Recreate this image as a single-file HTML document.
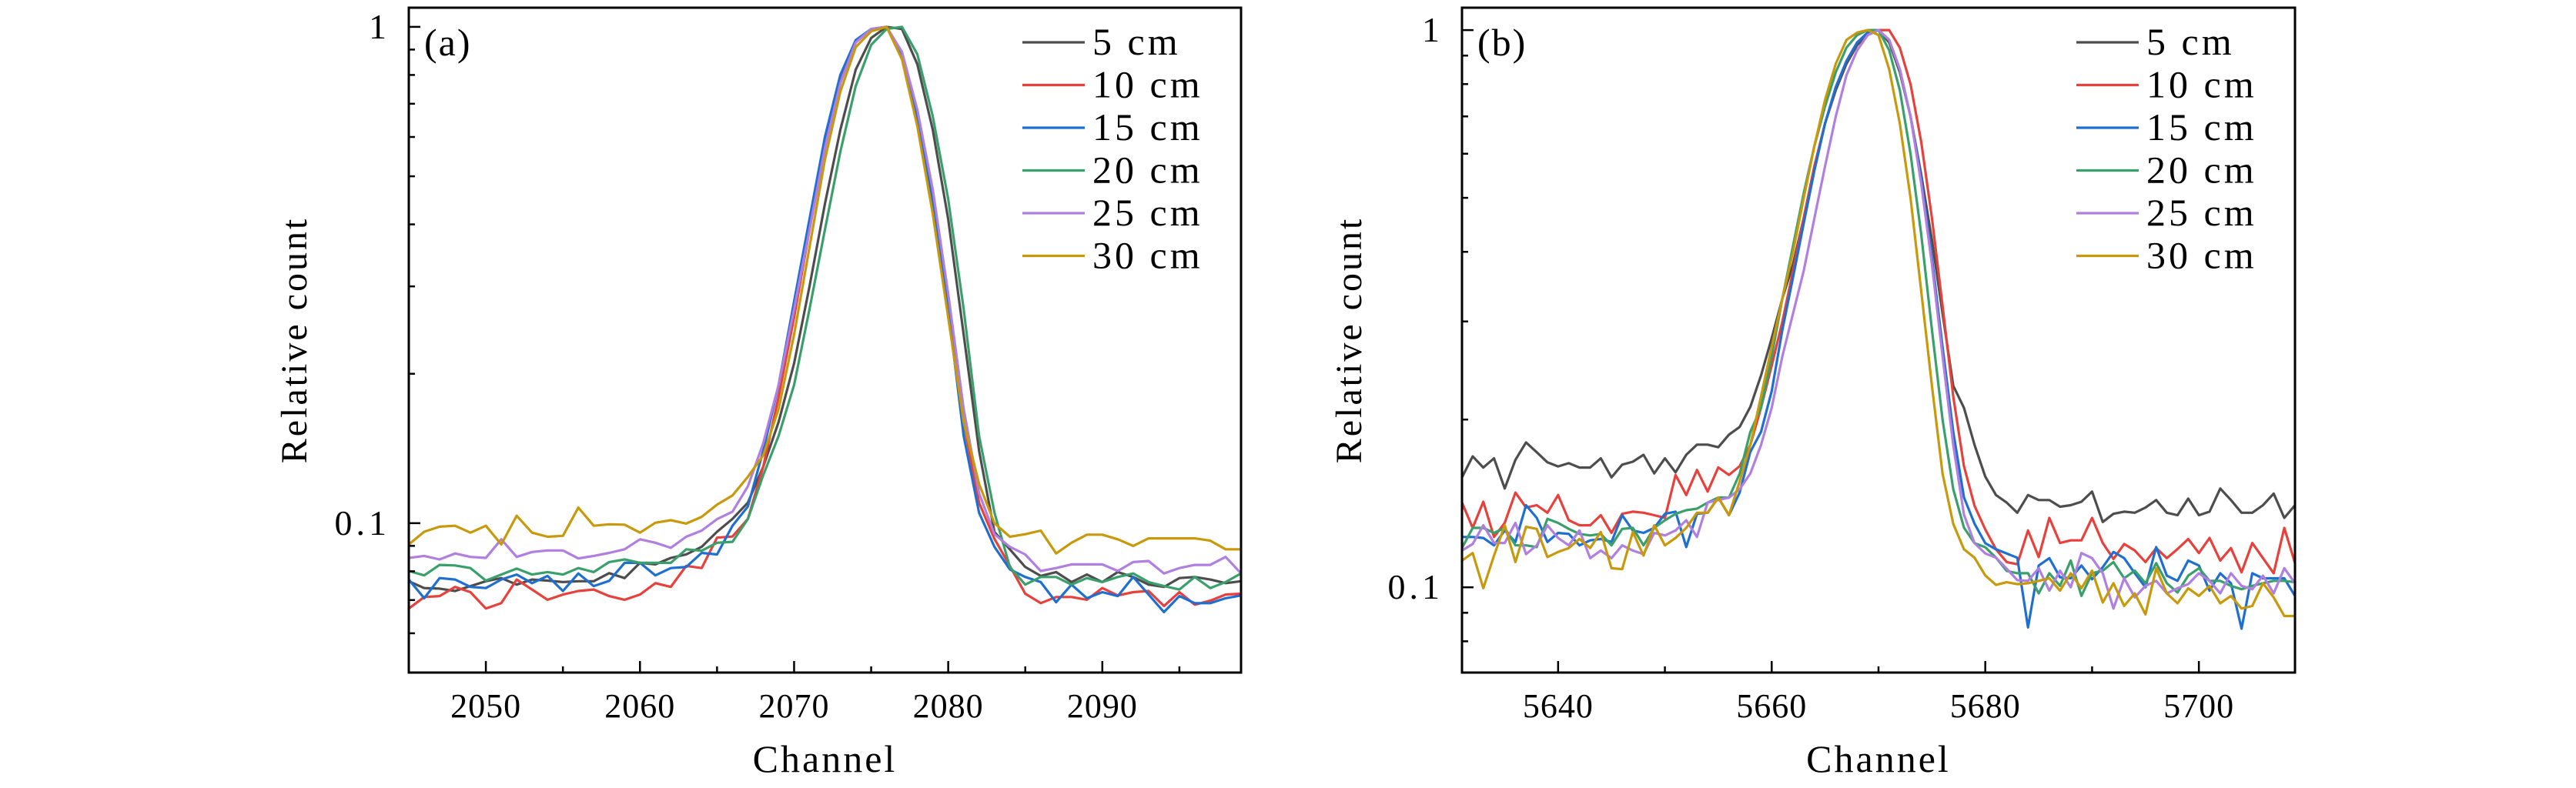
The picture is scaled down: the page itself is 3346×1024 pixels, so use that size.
<!DOCTYPE html>
<html><head><meta charset="utf-8">
<style>
html,body{margin:0;padding:0;background:#fff;}
svg{display:block;font-family:"Liberation Serif",serif;}
</style></head>
<body>
<svg id="chart" width="3346" height="1024" viewBox="0 0 3346 1024" xmlns="http://www.w3.org/2000/svg"></svg>
<script>
// ---------- data ----------
const seriesLabels = ["5 cm","10 cm","15 cm","20 cm","25 cm","30 cm"];
const seriesColors = ["#4d4d4d","#e8413c","#1f6fd1","#3aa06b","#b07fe0","#c8990a"];

const chA_start = 2045; // channels 2045..2099
const a_5cm = [0.0764,0.074,0.0738,0.073,0.0747,0.0764,0.0775,0.0752,0.077,0.0766,0.0761,0.0764,0.0764,0.0793,0.0775,0.0832,0.0826,0.0851,0.0865,0.0896,0.0961,
 0.102,0.11,0.13,0.16,0.21,0.30,0.44,0.62,0.82,0.95,1.0,0.99,0.84,0.62,0.41,0.24,0.14,0.096,0.0886,
 0.0816,0.0783,0.0797,0.0761,0.0788,0.0761,0.0797,0.0779,0.0752,0.0744,0.0775,0.0779,0.077,0.0757,0.0764];
const a_10cm = [0.0673,0.071,0.0713,0.0744,0.0726,0.0673,0.069,0.077,0.0735,0.0701,0.0718,0.073,0.0735,0.0713,0.0701,0.0718,0.0757,0.0744,0.082,0.0812,0.0935,
 0.094,0.102,0.13,0.18,0.26,0.39,0.57,0.78,0.93,0.99,1.0,0.88,0.66,0.45,0.28,0.16,0.11,0.093,0.082,
 0.0721,0.069,0.071,0.071,0.0701,0.074,0.0715,0.0726,0.073,0.0681,0.0726,0.0685,0.0698,0.0718,0.0721];
const a_15cm = [0.077,0.0706,0.0775,0.077,0.0744,0.074,0.077,0.0788,0.0757,0.0783,0.073,0.0792,0.0747,0.0765,0.0832,0.0832,0.0785,0.0812,0.0816,0.0871,0.0865,
 0.0988,0.108,0.14,0.19,0.28,0.41,0.60,0.80,0.94,0.99,1.0,0.87,0.65,0.44,0.27,0.15,0.105,0.0896,0.0807,
 0.0779,0.0761,0.0693,0.0752,0.0706,0.0726,0.0713,0.0779,0.0718,0.0662,0.0713,0.069,0.069,0.0706,0.0715];
const a_20cm = [0.0801,0.0785,0.0824,0.0822,0.0812,0.0766,0.0788,0.081,0.0788,0.0797,0.0788,0.0812,0.0797,0.0835,0.0845,0.0832,0.0832,0.0832,0.0886,0.088,0.0913,
 0.0917,0.1019,0.125,0.15,0.19,0.27,0.39,0.56,0.76,0.92,0.99,1.0,0.88,0.66,0.45,0.27,0.15,0.105,0.0816,
 0.0752,0.0779,0.0779,0.0752,0.0775,0.0761,0.0779,0.0792,0.0761,0.0747,0.0735,0.0779,0.074,0.0761,0.0792];
const a_25cm = [0.0851,0.0859,0.0845,0.0869,0.0855,0.0851,0.0928,0.0855,0.0875,0.0881,0.0881,0.0849,0.0859,0.0871,0.0886,0.0928,0.0913,0.0892,0.0939,0.0966,0.1019,
 0.1055,0.1186,0.145,0.19,0.27,0.39,0.57,0.77,0.93,0.99,1.0,0.89,0.68,0.47,0.29,0.17,0.115,0.095,0.0896,
 0.0865,0.0801,0.0812,0.0826,0.0826,0.0826,0.0801,0.0835,0.0839,0.0792,0.0812,0.0824,0.0824,0.0855,0.0792];
const a_30cm = [0.0906,0.0961,0.0984,0.0988,0.0957,0.0988,0.0906,0.1035,0.0957,0.0939,0.0943,0.1075,0.0988,0.0995,0.0993,0.0957,0.1002,0.1014,0.0998,0.103,0.109,
 0.1137,0.124,0.137,0.17,0.24,0.36,0.54,0.74,0.91,0.98,1.0,0.86,0.63,0.42,0.26,0.16,0.12,0.1,0.0939,
 0.095,0.0966,0.0869,0.0913,0.0948,0.0948,0.0928,0.090,0.0932,0.0932,0.0932,0.0932,0.0922,0.0886,0.0886];

const chB_start = 5631; // channels 5631..5709
const b_5cm = [0.1575,0.1718,0.164,0.1704,0.1504,0.1693,0.182,0.1747,0.1676,0.1648,0.167,0.164,0.164,0.1704,0.1575,0.166,0.168,0.1729,0.1601,0.1704,0.1608,0.1729,0.1803,0.1803,0.1784,0.1879,
 0.194,0.2107,
 0.24,0.28,0.33,0.38,0.46,0.57,0.68,0.78,0.87,0.94,0.98,1.0,0.95,0.84,0.70,0.55,0.42,0.31,0.23,0.21,0.18,0.158,
 0.1464,0.1419,0.1361,0.1464,0.1434,0.1434,0.1395,0.1404,0.1424,0.1485,0.131,0.1355,0.1367,0.1361,0.139,0.1434,0.1361,0.1347,0.1443,0.1347,0.1367,0.1504,0.1434,0.1361,0.1361,0.1404,0.1473,0.1332,0.1404];
const b_10cm = [0.1419,0.1278,0.1424,0.1231,0.1305,0.1479,0.139,0.1404,0.1361,0.1464,0.1319,0.1292,0.1292,0.1347,0.1252,0.1355,0.1367,0.1361,0.1347,0.1332,0.1591,0.1464,0.1624,0.1485,0.1641,0.1591,
 0.165,0.18,0.21,0.25,0.30,0.37,0.46,0.57,0.68,0.79,0.88,0.95,0.99,1.0,1.0,0.93,0.80,0.63,0.46,0.32,0.22,0.165,0.14,0.127,0.117,0.111,0.110,
 0.1265,0.1133,0.1332,0.1201,0.1214,0.1214,0.1332,0.1201,0.1124,0.1196,0.1164,0.111,0.1176,0.1128,0.1171,0.1221,0.1152,0.1226,0.1117,0.1176,0.1064,0.1201,0.1128,0.106,0.1278,0.1105];
const b_15cm = [0.1231,0.1231,0.1226,0.1189,0.1265,0.1206,0.1404,0.1332,0.1206,0.1252,0.1247,0.1189,0.1214,0.1221,0.1206,0.1347,0.1265,0.1252,0.1278,0.1355,0.1367,0.1181,0.1355,0.1361,0.1449,0.1347,
 0.148,0.175,0.19,0.225,0.29,0.36,0.45,0.56,0.68,0.79,0.88,0.95,0.99,1.0,0.96,0.85,0.70,0.54,0.39,0.27,0.19,0.145,0.13,0.12,0.117,0.115,0.113,
 0.0847,0.1094,0.1128,0.1042,0.1038,0.1094,0.1034,0.1087,0.1157,0.1128,0.106,0.1,0.1181,0.1049,0.1027,0.1117,0.1094,0.0986,0.106,0.1017,0.0843,0.106,0.1038,0.1038,0.1038,0.0965];
const b_20cm = [0.1176,0.1278,0.1278,0.1252,0.1278,0.1189,0.1189,0.1181,0.1327,0.1305,0.1273,0.1247,0.1239,0.1247,0.1189,0.1273,0.1278,0.1189,0.1278,0.1319,0.1355,0.1375,0.1384,0.1419,0.1449,0.1449,
 0.16,0.19,0.21,0.26,0.33,0.41,0.51,0.62,0.73,0.84,0.93,0.98,1.0,1.0,0.92,0.78,0.60,0.43,0.29,0.20,0.15,0.128,0.12,0.118,0.113,0.107,0.106,
 0.106,0.0975,0.106,0.1006,0.1117,0.0965,0.106,0.1071,0.111,0.1038,0.1071,0.1017,0.1105,0.1017,0.0979,0.1049,0.1082,0.1027,0.1027,0.1006,0.0992,0.1006,0.1017,0.1027,0.1027,0.1021];
const b_25cm = [0.1164,0.1196,0.1292,0.1201,0.1201,0.1305,0.1147,0.1189,0.1292,0.1226,0.1189,0.1265,0.1128,0.1164,0.1128,0.1189,0.1164,0.1147,0.1252,0.1239,0.1265,0.1319,0.1231,0.1419,0.1434,0.1449,
 0.15,0.16,0.18,0.21,0.26,0.31,0.37,0.46,0.57,0.70,0.83,0.92,0.98,1.0,0.96,0.85,0.70,0.53,0.38,0.26,0.18,0.135,0.12,0.115,0.113,0.108,0.103,
 0.1027,0.1082,0.0986,0.1071,0.1,0.1152,0.1128,0.106,0.0916,0.1038,0.0959,0.1006,0.1027,0.0975,0.0996,0.1013,0.106,0.1027,0.0975,0.106,0.1006,0.0992,0.1049,0.0975,0.1082,0.1017];
const b_30cm = [0.1117,0.1152,0.0996,0.114,0.1292,0.111,0.1284,0.1273,0.1133,0.1157,0.1176,0.1221,0.1176,0.1257,0.1082,0.1078,0.1257,0.114,0.1292,0.1189,0.1226,0.1278,0.1361,0.1361,0.1449,0.1347,
 0.155,0.18,0.22,0.27,0.33,0.40,0.50,0.62,0.75,0.87,0.96,0.99,1.0,0.98,0.85,0.68,0.50,0.34,0.23,0.16,0.13,0.117,0.113,0.105,0.101,
 0.1021,0.1013,0.1017,0.1027,0.1038,0.0986,0.106,0.0996,0.1071,0.0939,0.1017,0.0926,0.0975,0.0894,0.1082,0.0975,0.0936,0.0996,0.0965,0.1006,0.0936,0.0965,0.0916,0.0926,0.1017,0.0959,0.0888,0.0888];

const xTicksA = [2050,2060,2070,2080,2090];
const xMinorA = [2045,2055,2065,2075,2085,2095];
const xTicksB = [5640,5660,5680,5700];
const xMinorB = [5650,5670,5690];
const yTickVals = [0.1,1];
const yTickLabels = ["0.1","1"];
const yMinorVals = [0.06,0.07,0.08,0.09,0.2,0.3,0.4,0.5,0.6,0.7,0.8,0.9];

// ---------- drawing ----------
const NS = "http://www.w3.org/2000/svg";
const svg = document.getElementById("chart");
function mk(tag, attrs, parent){
  const e = document.createElementNS(NS, tag);
  for (const k in attrs) e.setAttribute(k, attrs[k]);
  (parent||svg).appendChild(e);
  return e;
}

const panels = [
  {id:"a", label:"(a)", L:531, R:1612, T:10, B:874, x0:2045, x1:2099, y0:0.05, y1:1.093,
   start:chA_start, data:[a_5cm,a_10cm,a_15cm,a_20cm,a_25cm,a_30cm], major:xTicksA, minor:xMinorA, yTitleX:387},
  {id:"b", label:"(b)", L:1899, R:2981, T:10, B:874, x0:5631, x1:5709, y0:0.0703, y1:1.097,
   start:chB_start, data:[b_5cm,b_10cm,b_15cm,b_20cm,b_25cm,b_30cm], major:xTicksB, minor:xMinorB, yTitleX:1757}
];

panels.forEach(p => {
  const g = mk("g", {});
  
  
  const xs = v => p.L + (v - p.x0) / (p.x1 - p.x0) * (p.R - p.L);
  const ys = v => p.B - (Math.log10(v) - Math.log10(p.y0)) / (Math.log10(p.y1) - Math.log10(p.y0)) * (p.B - p.T);

  const clipId = "clip-" + p.id;
  const cp = mk("clipPath", {id:clipId}, g);
  mk("rect", {x:p.L, y:p.T, width:p.R-p.L, height:p.B-p.T}, cp);

  const sg = mk("g", {"clip-path":"url(#"+clipId+")"}, g);
  
  
  p.data.forEach((arr, si) => {
    const pts = arr.map((v, i) => xs(p.start + i).toFixed(1) + "," + ys(v).toFixed(1)).join(" ");
    const pl = mk("polyline", {points:pts, fill:"none", stroke:seriesColors[si], "stroke-width":3.2, "stroke-linejoin":"round"}, sg);
    
    
  });

  p.major.forEach(v => {
    const x = xs(v);
    mk("line", {x1:x, x2:x, y1:p.B, y2:p.B-15, stroke:"#000", "stroke-width":2.5}, g);
    const t = mk("text", {x:x, y:932, "text-anchor":"middle", "font-size":44, "letter-spacing":1}, g);
    t.textContent = v;
    
    
  });
  p.minor.forEach(v => {
    const x = xs(v);
    mk("line", {x1:x, x2:x, y1:p.B, y2:p.B-8, stroke:"#000", "stroke-width":2.5}, g);
  });
  yTickVals.forEach((v, i) => {
    const y = ys(v);
    mk("line", {x1:p.L, x2:p.L+15, y1:y, y2:y, stroke:"#000", "stroke-width":2.5}, g);
    const t = mk("text", {x:p.L-24, y:y+15, "text-anchor":"end", "font-size":46, "letter-spacing":5}, g);
    t.textContent = yTickLabels[i];
    
    
  });
  yMinorVals.forEach(v => {
    if (v < p.y0 || v > p.y1) return;
    const y = ys(v);
    mk("line", {x1:p.L, x2:p.L+8, y1:y, y2:y, stroke:"#000", "stroke-width":2.5}, g);
  });

  const fr = mk("rect", {x:p.L, y:p.T, width:p.R-p.L, height:p.B-p.T, fill:"none", stroke:"#000", "stroke-width":3}, g);
  
  

  const pl = mk("text", {x:p.L+20, y:72, "font-size":50, "letter-spacing":2}, g);
  pl.textContent = p.label;
  
  

  const xt = mk("text", {x:(p.L+p.R)/2, y:1003, "text-anchor":"middle", "font-size":50, "letter-spacing":3}, g);
  xt.textContent = "Channel";
  
  
  const cy = (p.T + p.B) / 2;
  const yt = mk("text", {x:p.yTitleX, y:cy, "text-anchor":"middle", "font-size":48, "letter-spacing":3, transform:"rotate(-90 "+p.yTitleX+" "+cy+")", "dominant-baseline":"middle"}, g);
  yt.textContent = "Relative count";
  
  

  const lg = mk("g", {}, g);
  
  
  seriesLabels.forEach((lab, i) => {
    const y = 55 + i * 55.5;
    const e = mk("g", {}, lg);
    
    
    mk("line", {x1:p.R-284, x2:p.R-203, y1:y, y2:y, stroke:seriesColors[i], "stroke-width":3.2}, e);
    const t = mk("text", {x:p.R-193, y:y+16, "font-size":50, "letter-spacing":4}, e);
    t.textContent = lab;
  });
});
</script>
</body></html>
